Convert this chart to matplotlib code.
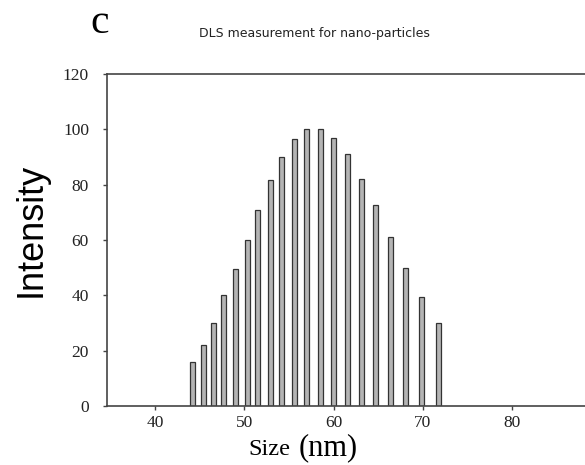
import numpy as np
import matplotlib.pyplot as plt

# DLS size distribution
size_nm = [44.2, 45.4, 46.5, 47.7, 49.0, 50.3, 51.5, 52.9, 54.2, 55.6,
           57.0, 58.5, 60.0, 61.6, 63.1, 64.7, 66.4, 68.1, 69.9, 71.8]
intensity = [16, 22, 30, 40, 49.5, 60, 71, 81.5, 90, 96.5,
             100, 100, 97, 91, 82, 72.5, 61, 50, 39.5, 30]
xticks = [40, 50, 60, 70, 80]
yticks = [0, 20, 40, 60, 80, 100, 120]

fig = plt.figure(figsize=(5.85, 4.65), dpi=100)
ax = fig.add_axes([0.183, 0.127, 0.817, 0.714])

ax.bar(size_nm, intensity, width=0.55, color="#b4b4b4", edgecolor="#333333", linewidth=0.9)

ax.set_xlim(34.6, 88.2)
ax.set_ylim(0, 120)
ax.set_xticks(xticks)
ax.set_yticks(yticks)
ax.spines["right"].set_visible(False)
for s in ["top", "left", "bottom"]:
    ax.spines[s].set_color("#444444")
    ax.spines[s].set_linewidth(1.2)
ax.tick_params(direction="out", length=3, width=1, colors="#444444", labelcolor="#222222")
for lab in ax.get_xticklabels() + ax.get_yticklabels():
    lab.set_family("Liberation Serif")
    lab.set_fontsize(12.5)
ax.tick_params(axis="y", pad=10)

fig.text(0.053, 0.505, "Intensity", family="Liberation Sans", fontsize=26, rotation=90,
         ha="center", va="center")
fig.text(0.497, 0.022, "Size", family="Liberation Serif", fontsize=17.5, ha="right", va="baseline")
fig.text(0.51, 0.022, "(nm)", family="Liberation Serif", fontsize=22, ha="left", va="baseline")
fig.text(0.537, 0.928, "DLS measurement for nano-particles", family="DejaVu Sans", fontsize=9,
         color="#222222", ha="center", va="center")
fig.text(0.171, 0.952, "c", family="Liberation Serif", fontsize=30, ha="center", va="center")

plt.savefig("out.png", dpi=100)
